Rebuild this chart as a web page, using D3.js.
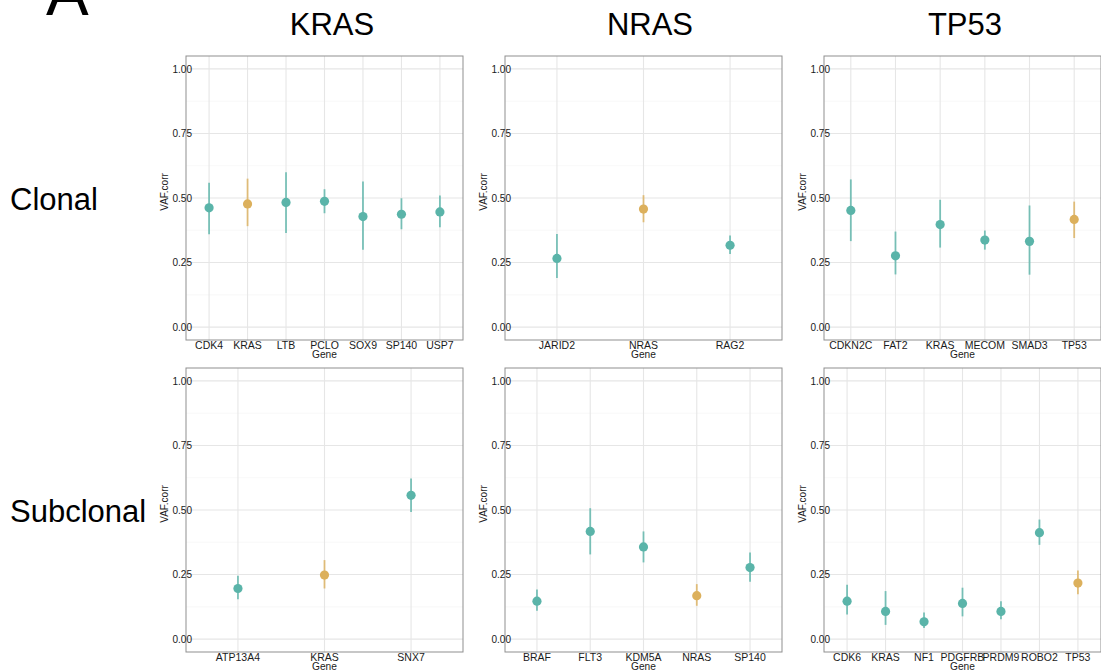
<!DOCTYPE html>
<html>
<head>
<meta charset="utf-8">
<script src="https://cdn.jsdelivr.net/npm/d3@7"></script>
<style>
  body { margin: 0; background: #fff; }
  text { font-family: "Liberation Sans", Arial, sans-serif; }
</style>
</head>
<body>
<div id="chart"></div>
<script>
// valores (VAF.corr con intervalo)
const drivers = ["KRAS", "NRAS", "TP53"];
const rows = ["Clonal", "Subclonal"];
const yTicks = [0, 0.25, 0.5, 0.75, 1];
const yMinor = [0.125, 0.375, 0.625, 0.875];

const krasClonalGenes = ["CDK4", "KRAS", "LTB", "PCLO", "SOX9", "SP140", "USP7"];
const krasClonalVaf = [0.462, 0.477, 0.483, 0.487, 0.428, 0.437, 0.446];
const krasClonalLow = [0.36, 0.391, 0.364, 0.441, 0.30, 0.379, 0.387];
const krasClonalHigh = [0.559, 0.575, 0.60, 0.534, 0.564, 0.499, 0.51];

const nrasClonalGenes = ["JARID2", "NRAS", "RAG2"];
const nrasClonalVaf = [0.266, 0.457, 0.317];
const nrasClonalLow = [0.19, 0.406, 0.283];
const nrasClonalHigh = [0.361, 0.511, 0.355];

const tp53ClonalGenes = ["CDKN2C", "FAT2", "KRAS", "MECOM", "SMAD3", "TP53"];
const tp53ClonalVaf = [0.452, 0.276, 0.397, 0.337, 0.332, 0.417];
const tp53ClonalLow = [0.333, 0.204, 0.308, 0.30, 0.203, 0.345];
const tp53ClonalHigh = [0.572, 0.37, 0.493, 0.374, 0.471, 0.486];

const krasSubGenes = ["ATP13A4", "KRAS", "SNX7"];
const krasSubVaf = [0.196, 0.248, 0.557];
const krasSubLow = [0.154, 0.196, 0.492];
const krasSubHigh = [0.245, 0.306, 0.622];

const nrasSubGenes = ["BRAF", "FLT3", "KDM5A", "NRAS", "SP140"];
const nrasSubVaf = [0.147, 0.417, 0.357, 0.168, 0.277];
const nrasSubLow = [0.11, 0.328, 0.297, 0.129, 0.222];
const nrasSubHigh = [0.192, 0.507, 0.417, 0.213, 0.335];

const tp53SubGenes = ["CDK6", "KRAS", "NF1", "PDGFRB", "PRDM9", "ROBO2", "TP53"];
const tp53SubVaf = [0.147, 0.107, 0.067, 0.138, 0.107, 0.412, 0.217];
const tp53SubLow = [0.095, 0.055, 0.043, 0.088, 0.077, 0.365, 0.174];
const tp53SubHigh = [0.21, 0.186, 0.103, 0.199, 0.147, 0.463, 0.266];

const panels = [
    [krasClonalGenes, krasClonalVaf, krasClonalLow, krasClonalHigh],
    [nrasClonalGenes, nrasClonalVaf, nrasClonalLow, nrasClonalHigh],
    [tp53ClonalGenes, tp53ClonalVaf, tp53ClonalLow, tp53ClonalHigh],
    [krasSubGenes, krasSubVaf, krasSubLow, krasSubHigh],
    [nrasSubGenes, nrasSubVaf, nrasSubLow, nrasSubHigh],
    [tp53SubGenes, tp53SubVaf, tp53SubLow, tp53SubHigh]
];

const width = 1101, height = 672;
const panelW = 277, panelH = 284;
const panelX = [186, 505, 824];
const panelY = [56, 368];
const titleX = [332, 650, 965];

const teal = "#5ab4a9", gold = "#dcb05c";

const svg = d3.select("#chart").append("svg")
    .attr("width", width)
    .attr("height", height);

svg.append("text")
    .attr("x", 46).attr("y", 15)
    .style("font-size", "64px")
    .text("A");

drivers.forEach((d, i) => {
    svg.append("text")
        .attr("x", titleX[i]).attr("y", 35)
        .attr("text-anchor", "middle")
        .style("font-size", "31px")
        .text(d);
});

rows.forEach((r, i) => {
    svg.append("text")
        .attr("x", 10).attr("y", panelY[i] + 154)
        .style("font-size", "31px")
        .text(r);
});

const y = d3.scaleLinear().domain([-0.05, 1.05]);

panels.forEach((p, idx) => {
    const [genes, vaf, low, high] = p;
    const col = idx % 3, row = Math.floor(idx / 3);
    const driver = drivers[col];
    const x0 = panelX[col], y0 = panelY[row];

    const g = svg.append("g").attr("transform", `translate(${x0},${y0})`);
    y.range([panelH, 0]);
    const x = d3.scalePoint().domain(genes).range([0, panelW]).padding(0.6);

    // rejilla
    g.selectAll("line.minor").data(yMinor).enter().append("line")
        .attr("x1", 0).attr("x2", panelW)
        .attr("y1", d => y(d)).attr("y2", d => y(d))
        .attr("stroke", "#f3f3f3").attr("stroke-width", 0.6);
    g.selectAll("line.major").data(yTicks).enter().append("line")
        .attr("x1", 0).attr("x2", panelW)
        .attr("y1", d => y(d)).attr("y2", d => y(d))
        .attr("stroke", "#e6e6e6").attr("stroke-width", 1.1);
    g.selectAll("line.vgrid").data(genes).enter().append("line")
        .attr("x1", d => x(d)).attr("x2", d => x(d))
        .attr("y1", 0).attr("y2", panelH)
        .attr("stroke", "#e6e6e6").attr("stroke-width", 1.1);

    g.append("rect")
        .attr("width", panelW).attr("height", panelH)
        .attr("fill", "none")
        .attr("stroke", "#8f8f8f").attr("stroke-width", 1);

    const data = genes.map((gn, i) => ({ gene: gn, v: vaf[i], lo: low[i], hi: high[i] }));
    const color = d => d.gene === driver ? gold : teal;

    g.selectAll("line.err").data(data).enter().append("line")
        .attr("x1", d => x(d.gene)).attr("x2", d => x(d.gene))
        .attr("y1", d => y(d.lo)).attr("y2", d => y(d.hi))
        .attr("stroke", color)
        .attr("stroke-opacity", 0.8)
        .attr("stroke-width", 1.8);

    g.selectAll("circle").data(data).enter().append("circle")
        .attr("cx", d => x(d.gene)).attr("cy", d => y(d.v))
        .attr("r", 4.6)
        .attr("fill", color);

    // ejes
    g.selectAll("text.ytick").data(yTicks).enter().append("text")
        .attr("x", 6).attr("y", d => y(d) + 3.6)
        .attr("text-anchor", "end")
        .style("font-size", "10px")
        .attr("fill", "#1a1a1a")
        .text(d => d.toFixed(2));

    g.selectAll("text.xtick").data(genes).enter().append("text")
        .attr("x", d => x(d)).attr("y", panelH + 8.5)
        .attr("text-anchor", "middle")
        .style("font-size", "10.5px")
        .attr("fill", "#1a1a1a")
        .text(d => d);

    g.append("text")
        .attr("x", panelW / 2).attr("y", panelH + 17.5)
        .attr("text-anchor", "middle")
        .style("font-size", "10.2px")
        .attr("fill", "#1a1a1a")
        .text("Gene");

    g.append("text")
        .attr("transform", `translate(-18.5,${panelH / 2 - 6}) rotate(-90)`)
        .attr("text-anchor", "middle")
        .style("font-size", "10px")
        .attr("fill", "#1a1a1a")
        .text("VAF.corr");
});
</script>
</body>
</html>
